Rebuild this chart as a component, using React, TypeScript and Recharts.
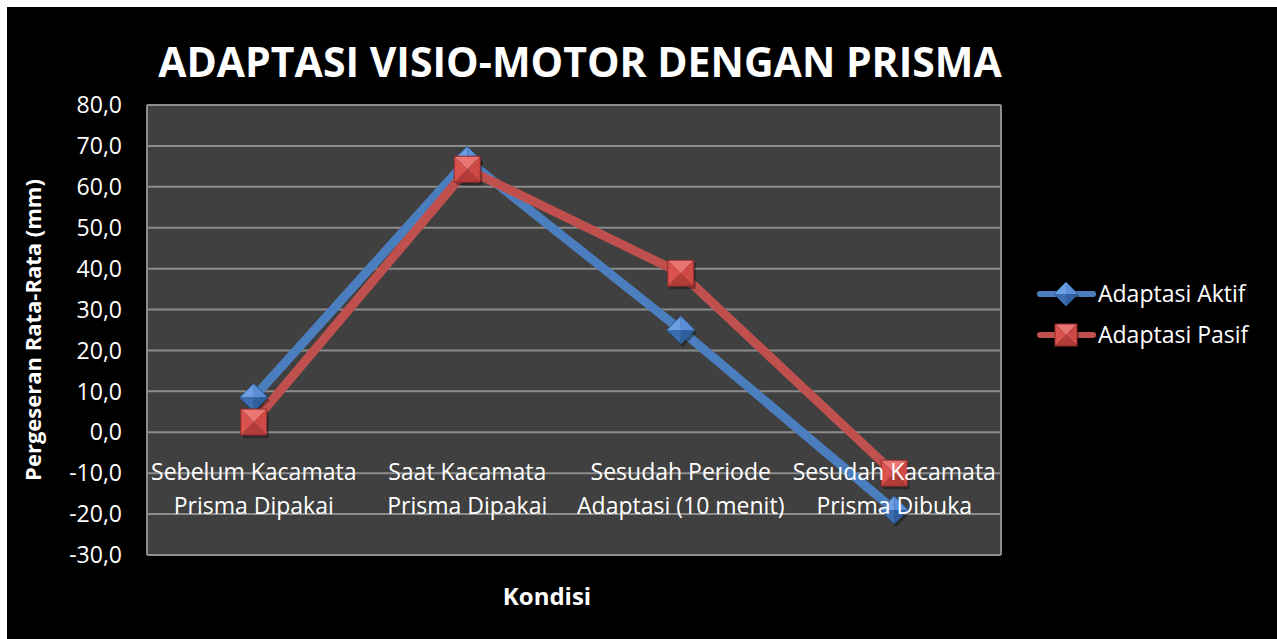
import React from "react";
import { LineChart, Line, XAxis, YAxis, CartesianGrid, Legend } from "recharts";

const title = "ADAPTASI VISIO-MOTOR DENGAN PRISMA";
const yAxisTitle = "Pergeseran Rata-Rata (mm)";
const xAxisTitle = "Kondisi";
const categories = [
  "Sebelum Kacamata|Prisma Dipakai",
  "Saat Kacamata|Prisma Dipakai",
  "Sesudah Periode|Adaptasi (10 menit)",
  "Sesudah Kacamata|Prisma Dibuka",
];
const seriesNames = ["Adaptasi Aktif", "Adaptasi Pasif"];
const aktif = [8.5, 66.5, 25.0, -19.0];
const pasif = [2.5, 64.3, 38.9, -10.0];
const yTicks = [-30, -20, -10, 0, 10, 20, 30, 40, 50, 60, 70, 80];

const data = categories.map((c, i) => ({ cat: c, aktif: aktif[i], pasif: pasif[i] }));

const FONT = "'Open Sans', 'DejaVu Sans', sans-serif";
const BLUE = "#4a7ebf";
const RED = "#c0504d";

const Diamond = (props: any) => {
  const { cx, cy } = props;
  if (cx == null || cy == null) return null;
  const h = props.half ?? 14;
  const T = `${cx},${cy - h}`, R = `${cx + h},${cy}`, B = `${cx},${cy + h}`, L = `${cx - h},${cy}`, C = `${cx},${cy}`;
  return (
    <g>
      <polygon points={`${cx + 2},${cy - h + 3} ${cx + h + 2},${cy + 3} ${cx + 2},${cy + h + 3} ${cx - h + 2},${cy + 3}`} fill="rgba(0,0,0,0.35)" />
      <polygon points={`${L} ${T} ${C}`} fill="#6b9fe2" />
      <polygon points={`${T} ${R} ${C}`} fill="#5a8fd8" />
      <polygon points={`${R} ${B} ${C}`} fill="#2f5f9f" />
      <polygon points={`${B} ${L} ${C}`} fill="#3b6db0" />
      <polygon points={`${L} ${T} ${R} ${B}`} fill="none" stroke="#2c5a94" strokeWidth={1} />
    </g>
  );
};

const Square = (props: any) => {
  const { cx, cy } = props;
  if (cx == null || cy == null) return null;
  const h = props.half ?? 13;
  const TL = `${cx - h},${cy - h}`, TR = `${cx + h},${cy - h}`, BR = `${cx + h},${cy + h}`, BL = `${cx - h},${cy + h}`, C = `${cx},${cy}`;
  return (
    <g>
      <rect x={cx - h + 2} y={cy - h + 3} width={2 * h} height={2 * h} fill="rgba(0,0,0,0.35)" />
      <polygon points={`${TL} ${TR} ${C}`} fill="#ea7673" />
      <polygon points={`${TR} ${BR} ${C}`} fill="#cf4a46" />
      <polygon points={`${BR} ${BL} ${C}`} fill="#b23c39" />
      <polygon points={`${BL} ${TL} ${C}`} fill="#d9524e" />
      <rect x={cx - h} y={cy - h} width={2 * h} height={2 * h} fill="none" stroke="#8c2b28" strokeWidth={1} />
    </g>
  );
};

const CatTick = (props: any) => {
  const { x, y, payload } = props;
  const lines = String(payload.value).split("|");
  return (
    <g>
      <text x={x} y={y - 75} textAnchor="middle" fill="#ffffff" fontSize={23} fontFamily={FONT}>{lines[0]}</text>
      <text x={x} y={y - 41} textAnchor="middle" fill="#ffffff" fontSize={23} fontFamily={FONT}>{lines[1]}</text>
    </g>
  );
};

const LegendContent = () => {
  const items = [
    { name: seriesNames[0], color: BLUE, Marker: Diamond, half: 12 },
    { name: seriesNames[1], color: RED, Marker: Square, half: 11 },
  ];
  return (
    <svg width={240} height={90} style={{ overflow: "visible", display: "block" }}>
      {items.map((it, i) => {
        const cy = 20 + i * 41;
        return (
          <g key={it.name}>
            <line x1={9} x2={62} y1={cy} y2={cy} stroke={it.color} strokeWidth={6} strokeLinecap="round" />
            <it.Marker cx={35} cy={cy} half={it.half} />
            <text x={67} y={cy} dy="0.35em" fill="#ffffff" fontSize={23} fontFamily={FONT}>{it.name}</text>
          </g>
        );
      })}
    </svg>
  );
};

export default function App() {
  return (
    <div style={{ position: "absolute", left: 7, top: 7, width: 1270, height: 632, background: "#000000" }}>
      <LineChart
        width={1270}
        height={632}
        data={data}
        margin={{ top: 98, right: 36, left: 80, bottom: 54 }}
        style={{ background: "#000000" }}
      >
        <text x={573} y={59} textAnchor="middle" dominantBaseline="middle" fill="#ffffff" fontSize={41} fontWeight="bold" fontFamily={FONT}>{title}</text>
        <CartesianGrid
          fill="#404040"
          stroke="#8c8c8c"
          strokeWidth={2}
          verticalCoordinatesGenerator={(p: any) => [p.offset.left, p.offset.left + p.offset.width]}
        />
        <XAxis
          dataKey="cat"
          scale="band"
          height={30}
          axisLine={false}
          tickLine={false}
          tickSize={0}
          tickMargin={0}
          interval={0}
          tick={<CatTick />}
          label={{ value: xAxisTitle, position: "insideBottom", offset: -20, dx: -27, fill: "#ffffff", fontSize: 24, fontWeight: "bold", fontFamily: FONT }}
        />
        <YAxis
          width={60}
          domain={[-30, 80]}
          ticks={yTicks}
          interval={0}
          axisLine={false}
          tickLine={false}
          tickSize={0}
          tickMargin={25}
          tickFormatter={(v: number) => v.toFixed(1).replace(".", ",")}
          tick={{ fill: "#ffffff", fontSize: 23, fontFamily: FONT }}
          label={{ value: yAxisTitle, angle: -90, position: "insideLeft", offset: 0, dx: -54, fill: "#ffffff", fontSize: 22, fontWeight: "bold", fontFamily: FONT, style: { textAnchor: "middle" } }}
        />
        <Legend
          layout="vertical"
          align="right"
          verticalAlign="middle"
          content={<LegendContent />}
          wrapperStyle={{ position: "absolute", left: 1024, top: 267, width: 240, height: 90 }}
        />
        <Line
          type="linear"
          dataKey="aktif"
          name={seriesNames[0]}
          stroke={BLUE}
          strokeWidth={9}
          strokeLinejoin="round"
          dot={<Diamond />}
          activeDot={false}
          isAnimationActive={false}
        />
        <Line
          type="linear"
          dataKey="pasif"
          name={seriesNames[1]}
          stroke={RED}
          strokeWidth={9}
          strokeLinejoin="round"
          dot={<Square />}
          activeDot={false}
          isAnimationActive={false}
        />
      </LineChart>
    </div>
  );
}
